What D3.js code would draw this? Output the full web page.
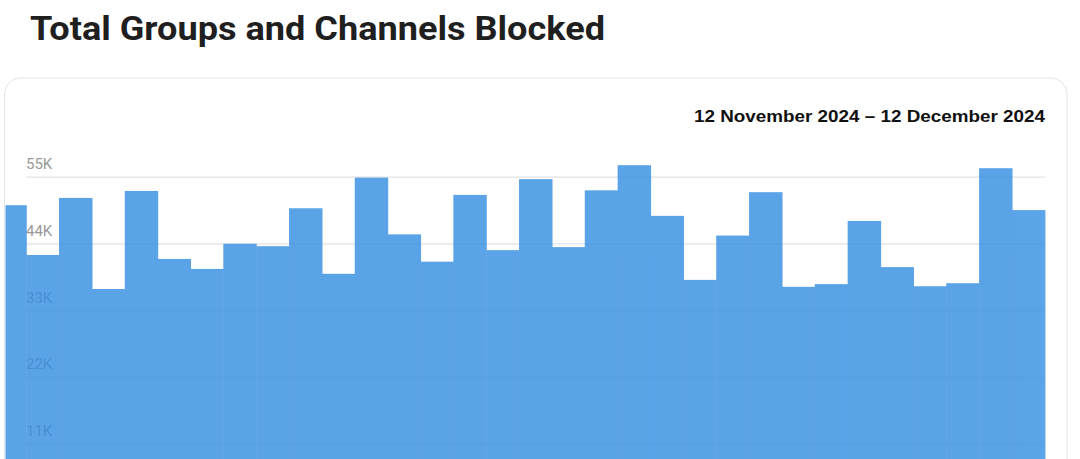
<!DOCTYPE html>
<html>
<head>
<meta charset="utf-8">
<script src="https://cdn.jsdelivr.net/npm/d3@7"></script>
<style>
  html, body { margin: 0; padding: 0; background: #fff; overflow: hidden; }
  svg { display: block; }
</style>
</head>
<body>
<svg id="chart" width="1080" height="459"></svg>
<script>
// ---- data ----
const days = [
  "11 Nov","12 Nov","13 Nov","14 Nov","15 Nov","16 Nov","17 Nov","18 Nov",
  "19 Nov","20 Nov","21 Nov","22 Nov","23 Nov","24 Nov","25 Nov","26 Nov",
  "27 Nov","28 Nov","29 Nov","30 Nov","1 Dec","2 Dec","3 Dec","4 Dec",
  "5 Dec","6 Dec","7 Dec","8 Dec","9 Dec","10 Dec","11 Dec","12 Dec"
];
const blocked = [
  50300, 42100, 51500, 36500, 52650, 41450, 39800, 43950,
  43550, 49800, 39000, 54850, 45500, 41000, 52000, 42900,
  54600, 43400, 52750, 56900, 48550, 38000, 45300, 52450,
  36850, 37300, 47700, 40100, 36950, 37450, 56400, 49500
];
const yTicks = [11000, 22000, 33000, 44000, 55000];
const title = "Total Groups and Channels Blocked";
const dateRange = "12 November 2024 \u2013 12 December 2024";

// ---- layout ----
const svg = d3.select("#chart");
const card = { x: 4.5, y: 78, w: 1062.5, h: 420, r: 16 };
const plot = { left: -6.7, right: 1044.8, zeroY: 510.5, topY: 176.7 };

const x = d3.scaleBand().domain(days).range([plot.left, plot.right]).padding(0);
const y = d3.scaleLinear().domain([0, 55000]).range([plot.zeroY, plot.topY]);

// title
svg.append("text")
  .attr("x", 30).attr("y", 40)
  .attr("font-family", "Roboto, 'Noto Sans', sans-serif")
  .attr("font-weight", 700)
  .attr("font-size", 33)
  .attr("fill", "#1f1f1f")
  .attr("textLength", 575)
  .attr("lengthAdjust", "spacingAndGlyphs")
  .text(title);

// card
svg.append("rect")
  .attr("x", card.x).attr("y", card.y)
  .attr("width", card.w).attr("height", card.h)
  .attr("rx", card.r).attr("ry", card.r)
  .attr("fill", "#fff")
  .attr("stroke", "#e4e4e4")
  .attr("stroke-width", 1);

svg.append("defs").append("clipPath").attr("id", "cardClip")
  .append("rect")
  .attr("x", card.x + 1).attr("y", card.y + 1)
  .attr("width", card.w - 2).attr("height", card.h - 2)
  .attr("rx", card.r - 1).attr("ry", card.r - 1);

// date range
svg.append("text")
  .attr("x", 1045).attr("y", 122)
  .attr("text-anchor", "end")
  .attr("font-family", "'Liberation Sans', Arial, sans-serif")
  .attr("font-weight", 700)
  .attr("font-size", 17)
  .attr("fill", "#111")
  .attr("textLength", 351)
  .attr("lengthAdjust", "spacingAndGlyphs")
  .text(dateRange);

const g = svg.append("g").attr("clip-path", "url(#cardClip)");

// grid + labels (drawn beneath translucent bars)
const yAxis = d3.axisLeft(y)
  .tickValues(yTicks)
  .tickSize(-(plot.right - 26))
  .tickFormat(d => d3.format("d")(d / 1000) + "K");

const ag = g.append("g")
  .attr("transform", `translate(26,0)`)
  .call(yAxis);
ag.select(".domain").remove();
ag.selectAll(".tick line")
  .attr("stroke", "#e3e3e3")
  .attr("stroke-width", 1.2);
ag.selectAll(".tick text")
  .attr("x", 0)
  .attr("dy", -8)
  .attr("text-anchor", "start")
  .attr("font-family", "Roboto, 'Noto Sans', sans-serif")
  .attr("font-size", 15)
  .attr("fill", "#9a9a9a");

// bars (opaque inside a translucent group, so neighbours meet without seams)
g.append("g")
  .attr("opacity", 0.8)
  .selectAll("rect")
  .data(blocked)
  .join("rect")
  .attr("x", (d, i) => x(days[i]))
  .attr("width", x.bandwidth() + 0.6)
  .attr("y", d => y(d))
  .attr("height", d => y(0) - y(d))
  .attr("fill", "rgb(51,141,226)");
</script>
</body>
</html>
